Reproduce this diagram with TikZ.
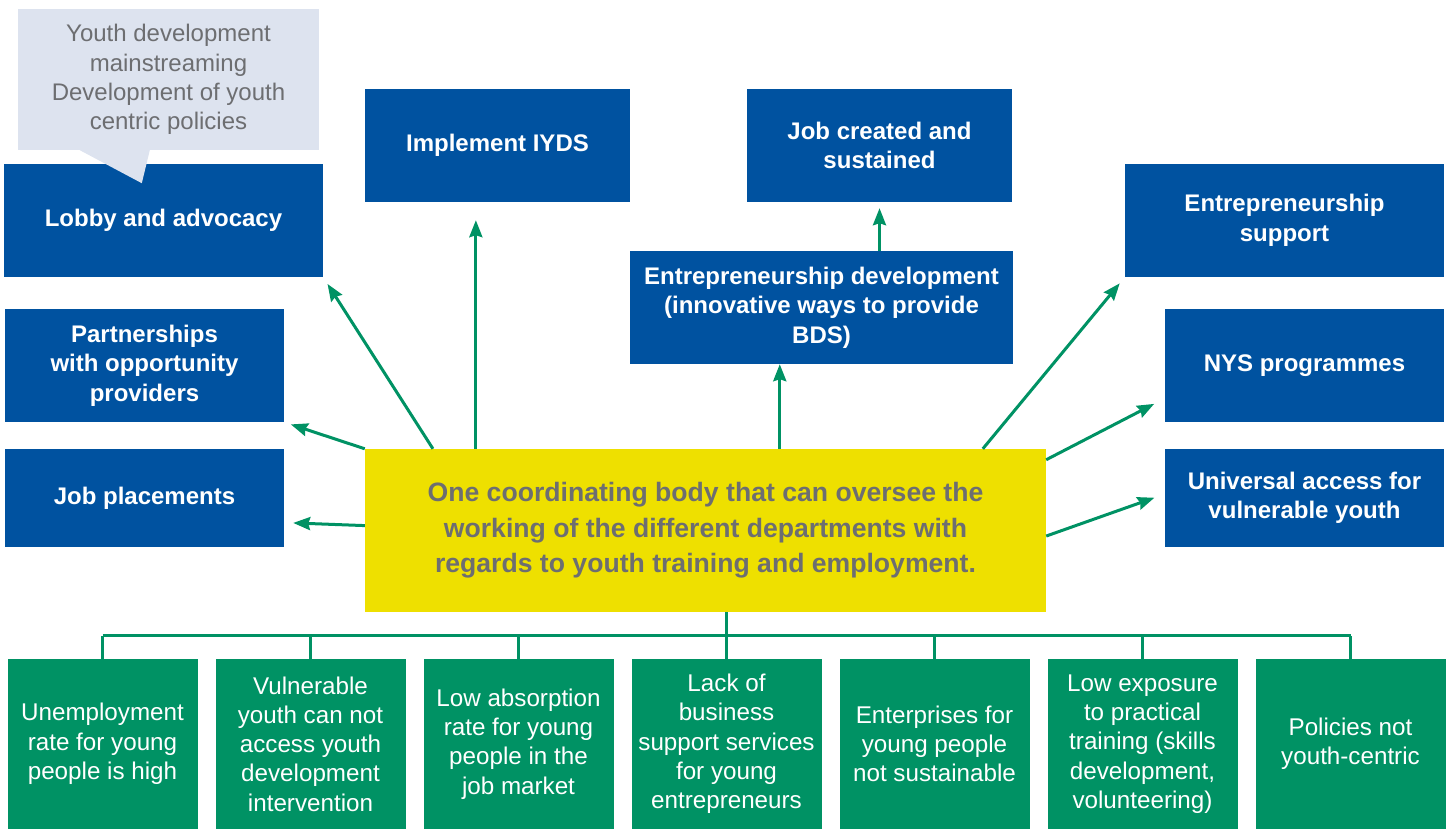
\documentclass[tikz,border=0pt]{standalone}
\usepackage{fontspec}
\setmainfont{Liberation Sans}
\usetikzlibrary{calc,arrows.meta}
\definecolor{boxblue}{RGB}{0,82,160}
\definecolor{boxgreen}{RGB}{0,146,100}
\definecolor{bodyyellow}{RGB}{238,224,0}
\definecolor{textgray}{RGB}{109,110,113}
\definecolor{bubblegray}{RGB}{221,227,239}
\begin{document}
\begin{tikzpicture}[x=1pt,y=-1pt,
    task/.style={fill=boxblue,text=white,font=\bfseries\fontsize{24}{29.5}\selectfont,
      align=center,inner sep=0pt,minimum height=113pt},
    issue/.style={fill=boxgreen,text=white,font=\fontsize{24.2}{29.3}\selectfont,
      align=center,inner sep=0pt,minimum width=190pt,minimum height=170pt},
    link/.style={draw=boxgreen,line width=3pt,-{Stealth[length=17pt,width=13pt,inset=2pt]}},
    bus/.style={draw=boxgreen,line width=3pt}]
	\useasboundingbox (0,0) rectangle (1451,829);

	% central body
	\node (cb) at (705.5,530.5) [fill=bodyyellow,text=textgray,minimum width=681pt,minimum height=163pt,
	  inner sep=0pt,align=center,font=\bfseries\fontsize{26.6}{35.5}\selectfont]
	  {One coordinating body that can oversee the\\working of the different departments with\\regards to youth training and employment.};

	% actions
	\node (lobby) at (163.5,220.5)  [task,minimum width=319pt] {Lobby and advocacy};
	\node (iyds)  at (497.5,145.5)  [task,minimum width=265pt] {Implement IYDS};
	\node (jobs)  at (879.5,145.5)  [task,minimum width=265pt] {Job created and\\sustained};
	\node (edev)  at (821.5,307.5)  [task,minimum width=383pt] {Entrepreneurship development\\(innovative ways to provide\\BDS)};
	\node (esup)  at (1284.5,220.5) [task,minimum width=319pt] {Entrepreneurship\\support};
	\node (part)  at (144.5,365.5)  [task,minimum width=279pt] {Partnerships\\with opportunity\\providers};
	\node (nys)   at (1304.5,365.5) [task,minimum width=279pt] {NYS programmes};
	\node (place) at (144.5,498)    [task,minimum width=279pt,minimum height=98pt] {Job placements};
	\node (uni)   at (1304.5,498)   [task,minimum width=279pt,minimum height=98pt] {Universal access for\\vulnerable youth};

	% callout
	\node (bub) at (168.5,79.5) [fill=bubblegray,text=textgray,minimum width=301pt,minimum height=141pt,
	  inner sep=0pt,align=center,font=\fontsize{24}{29.3}\selectfont]
	  {Youth development\\mainstreaming\\Development of youth\\centric policies};
	\fill[bubblegray] ($(bub.south west)+(62,0)$) -- ($(bub.south west)+(132,0)$)
	  -- ($(bub.south west)+(124,33)$) -- cycle;

	% problems
	\node (g1) at (102.5,744)  [issue] {Unemployment\\rate for young\\people is high};
	\node (g2) at (310.5,744)  [issue] {Vulnerable\\youth can not\\access youth\\development\\intervention};
	\node (g3) at (518.5,744)  [issue] {Low absorption\\rate for young\\people in the\\job market};
	\node (g4) at (726.5,744)  [issue] {Lack of\\business\\support services\\for young\\entrepreneurs};
	\node (g5) at (934.5,744)  [issue] {Enterprises for\\young people\\not sustainable};
	\node (g6) at (1142.5,744) [issue] {Low exposure\\to practical\\training (skills\\development,\\volunteering)};
	\node (g7) at (1350.5,744) [issue] {Policies not\\youth-centric};

	\draw[bus] (cb.south -| g4.north) -- (g4.north);
	\draw[bus] ($(g1.north)+(0,-23)$) -- ($(g7.north)+(0,-23)$);
	\foreach \i in {1,2,3,5,6,7}
	  \draw[bus] (g\i.north) -- ++(0,-23);

	% arrows out of the body
	\coordinate (a1) at ($(cb.north west)!0.1!(cb.north east)$);
	\coordinate (a2) at ($(cb.north west)!0.163!(cb.north east)$);
	\coordinate (a3) at ($(cb.north west)!0.609!(cb.north east)$);
	\coordinate (a4) at ($(cb.north west)!0.907!(cb.north east)$);
	\draw[link,shorten >=8pt]  (a1) -- (lobby.south east);
	\draw[link,shorten >=18pt] (a2) -- (a2 |- iyds.south);
	\draw[link]                (a3) -- (a3 |- edev.south);
	\draw[link,shorten >=6pt]  (edev.north -| jobs.south) -- (jobs.south);
	\draw[link,shorten >=8pt]  (a4) -- (esup.south west);
	\draw[link,shorten >=7pt]  (cb.north west) -- (part.south east);
	\draw[link,shorten >=9pt]  ($(cb.north west)!0.47!(cb.south west)$) -- ($(place.north east)!0.75!(place.south east)$);
	\draw[link,shorten >=12pt] ($(cb.north east)!0.067!(cb.south east)$) -- ($(nys.north west)!0.79!(nys.south west)$);
	\draw[link,shorten >=11pt] ($(cb.north east)!0.534!(cb.south east)$) -- ($(uni.north west)!0.46!(uni.south west)$);
\end{tikzpicture}
\end{document}
